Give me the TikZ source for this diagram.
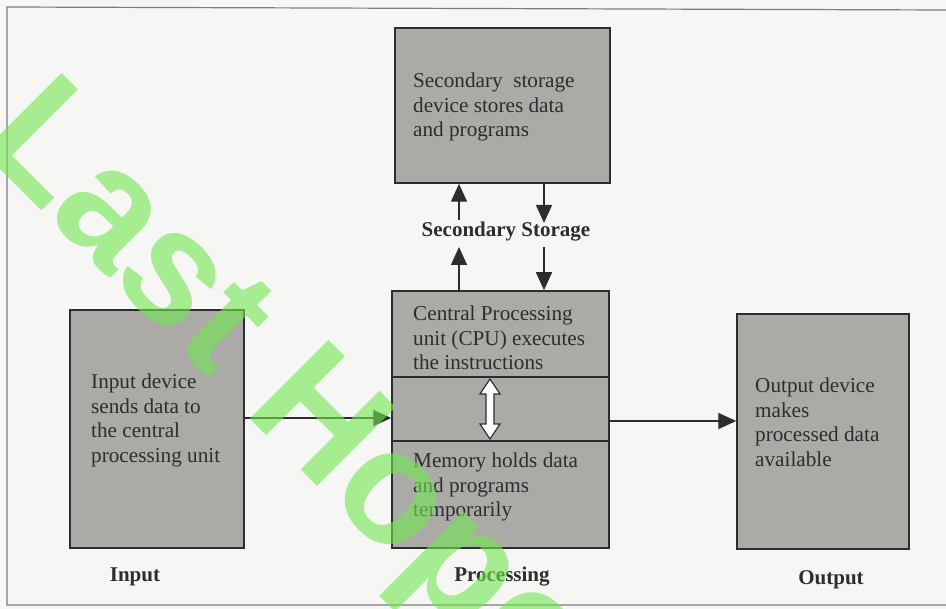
\documentclass[tikz,border=0pt]{standalone}
\usepackage{fontspec}
\setmainfont{Liberation Serif}
\setsansfont{Liberation Sans}
\usetikzlibrary{arrows.meta}
\definecolor{paper}{RGB}{246,246,244}
\definecolor{boxgray}{RGB}{172,170,167}
\definecolor{ink}{RGB}{45,45,45}
\definecolor{framegray}{RGB}{125,125,125}
\definecolor{wmgreen}{RGB}{113,230,80}
\begin{document}
\begin{tikzpicture}[x=1pt,y=-1pt,
  boxstyle/.style={draw=ink, line width=1.5pt, fill=boxgray, inner sep=0pt},
  bodytext/.style={font=\fontsize{21.2}{24.5}\selectfont, text=ink, align=left, inner sep=0pt, anchor=north west},
  captext/.style={font=\bfseries\fontsize{21}{24.5}\selectfont, text=ink, inner sep=0pt, anchor=base},
  arr/.style={draw=ink, line width=1.4pt, -{Triangle[length=18pt,width=16pt]}},
  divline/.style={draw=ink, line width=1.4pt},
  wm/.style={rotate=-45, anchor=base west, inner sep=0pt, text=wmgreen, text opacity=0.6,
    font=\sffamily\bfseries\fontsize{162}{162}\selectfont}]
\useasboundingbox (0,0) rectangle (946,609);
\fill[paper] (0,0) rectangle (946,609);
\clip (0,0) rectangle (946,609);
\draw[framegray, line width=1.2pt] (946,10) -- (7,7) -- (7,605) -- (946,605);
% boxes
\node[boxstyle, minimum width=215pt, minimum height=155pt] (ss) at (502.5,105.5) {};
\node[boxstyle, minimum width=217pt, minimum height=257pt] (cpu) at (500.5,419.5) {};
\node[boxstyle, minimum width=174pt, minimum height=238pt] (inp) at (157,429) {};
\node[boxstyle, minimum width=172pt, minimum height=235pt] (out) at (823,431.5) {};
% dividers in CPU box
\coordinate (d1) at (0,377);
\coordinate (d2) at (0,441);
\draw[divline] (cpu.west |- d1) -- (cpu.east |- d1);
\draw[divline] (cpu.west |- d2) -- (cpu.east |- d2);
% box texts
\node[bodytext] (sst) at (413,73) {Secondary \ storage\\device stores data\\and programs};
\node[bodytext] (cput) at (413,306) {Central Processing\\unit (CPU) executes\\the instructions};
\node[bodytext] (memt) at (413,453) {Memory holds data\\and programs\\temporarily};
\node[bodytext] (inpt) at (91,374) {Input device\\sends data to\\the central\\processing unit};
\node[bodytext] (outt) at (755,378) {Output device\\makes\\processed data\\available};
% captions
\node[captext] (sslab) at (506,237) {Secondary Storage};
\node[captext] (inlab) at (135,582) {Input};
\node[captext] (prlab) at (502,582) {Processing};
\node[captext] (outlab) at (831,585) {Output};
% connectors
\coordinate (inY) at (0,418);
\coordinate (outY) at (0,421);
\coordinate (upX) at (459,0);
\coordinate (dnX) at (544,0);
\coordinate (upA) at (459,247);
\coordinate (upB) at (459,220);
\coordinate (dnA) at (544,223);
\coordinate (dnB) at (544,247);
\draw[arr] (inp.east |- inY) -- (cpu.west |- inY);
\draw[arr] (cpu.east |- outY) -- (out.west |- outY);
\draw[arr] (cpu.north -| upX) -- (upA);
\draw[arr] (upB) -- (ss.south -| upX);
\draw[arr] (ss.south -| dnX) -- (dnA);
\draw[arr] (dnB) -- (cpu.north -| dnX);
% hollow double arrow between CPU and memory
\coordinate (dt) at (490,379);
\coordinate (db) at (490,439);
\draw[ink, line width=1.2pt, fill=white, line join=miter] (dt) -- ++(10,15) -- ++(-6,0) -- ++(0,30) -- ++(6,0) -- (db) -- ++(-10,-15) -- ++(6,0) -- ++(0,-30) -- ++(-6,0) -- cycle;
% watermark
\node[wm] (mark) at (-25,144) {Last Hope};
\end{tikzpicture}
\end{document}
